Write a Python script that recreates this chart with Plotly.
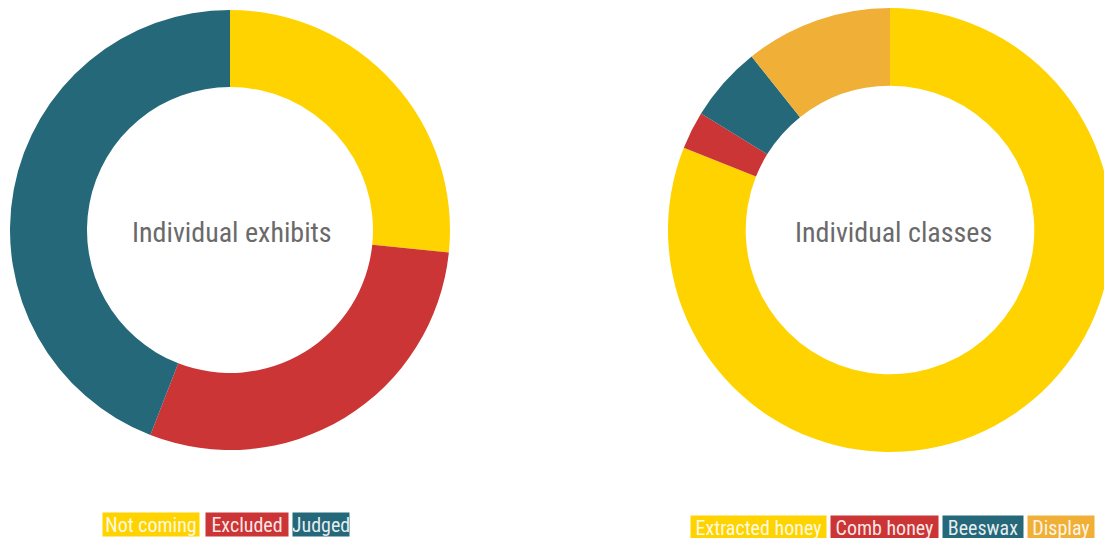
import plotly.graph_objects as go

# Exhibit counts
exhibit_labels = ["Not coming", "Excluded", "Judged"]
exhibit_values = [61, 67, 101]
exhibit_colors = ["#FFD300", "#CB3535", "#25687A"]

# Class entries
class_labels = ["Extracted honey", "Comb honey", "Beeswax", "Display"]
class_values = [295, 10, 20, 39]
class_colors = ["#FFD300", "#CB3535", "#25687A", "#F0AF37"]

titles = ["Individual exhibits", "Individual classes"]

W, H = 1116, 538
FONT = "Liberation Sans Narrow, Roboto Condensed, Arial Narrow, sans-serif"


def px_x(v):
    return v / W


def px_y(v):
    return 1 - v / H


fig = go.Figure()

pies = [
    (exhibit_labels, exhibit_values, exhibit_colors, (10, 450), (10, 450)),
    (class_labels, class_values, class_colors, (668, 1112), (8, 452)),
]
for labels, values, colors, (x0, x1), (y0, y1) in pies:
    fig.add_trace(go.Pie(
        labels=labels,
        values=values,
        marker=dict(colors=colors, line=dict(width=0)),
        hole=0.65,
        sort=False,
        direction="clockwise",
        rotation=0,
        textinfo="none",
        showlegend=False,
        domain=dict(x=[px_x(x0), px_x(x1)], y=[px_y(y1), px_y(y0)]),
    ))

# Centre titles
for title, cx in zip(titles, [232, 893]):
    fig.add_annotation(
        x=px_x(cx), y=px_y(232), xref="paper", yref="paper",
        text=title, showarrow=False,
        font=dict(family=FONT, size=28, color="#6a6a6a"),
        xanchor="center", yanchor="middle",
    )

# Legend chips: left edge, width for each label
legend_layout = [
    (exhibit_labels, exhibit_colors, [102, 205, 292], [96, 82, 56], 524),
    (class_labels, class_colors, [690, 830, 942, 1027], [135, 107, 80, 66], 527),
]
for labels, colors, lefts, widths, cy in legend_layout:
    for lab, col, left, w in zip(labels, colors, lefts, widths):
        fig.add_annotation(
            x=px_x(left), y=px_y(cy), xref="paper", yref="paper",
            text=lab, showarrow=False,
            xanchor="left", yanchor="middle",
            width=w, height=23, align="center", valign="middle",
            bgcolor=col, borderpad=0,
            font=dict(family=FONT, size=20, color="rgba(255,255,255,0.9)"),
        )

fig.update_layout(
    width=W, height=H,
    margin=dict(l=0, r=0, t=0, b=0),
    paper_bgcolor="white", plot_bgcolor="white",
)

fig.write_html(
    "out.html",
    post_script="document.body.style.margin='0';"
                "document.body.style.overflow='hidden';"
                "document.documentElement.style.overflow='hidden';",
)
